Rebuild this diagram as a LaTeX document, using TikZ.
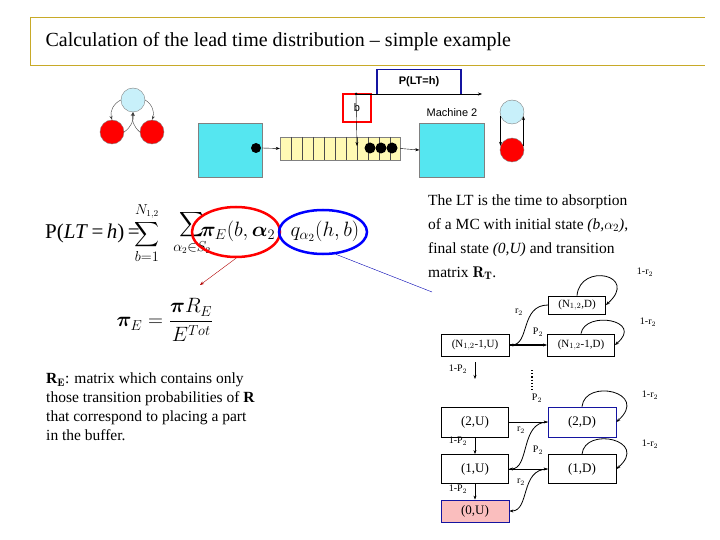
\documentclass[tikz,border=0pt]{standalone}
\usepackage{fontspec}
\usepackage{amsmath,bm}
\newfontfamily\arialf{Liberation Sans}
\newfontfamily\timesf{Liberation Serif}
\usetikzlibrary{arrows.meta,shapes.geometric}
\definecolor{gold}{RGB}{200,170,40}
\definecolor{mcyan}{RGB}{85,230,240}
\definecolor{lblue}{RGB}{200,240,250}
\definecolor{byel}{RGB}{255,250,180}
\definecolor{dblue}{RGB}{20,20,160}
\definecolor{pinkf}{RGB}{250,190,190}
\begin{document}
\begin{tikzpicture}[x=1pt,y=-1pt,
  st/.style={draw,thick,fill=white,font=\timesf\fontsize{13}{15}\selectfont,inner sep=0pt},
  lbl/.style={font=\timesf\fontsize{10}{12}\selectfont,inner sep=1pt},
  arr/.style={-{Stealth[length=4pt]},thin},
  fm/.style={inner sep=0pt,font=\fontsize{21}{24}\selectfont},
  tx/.style={font=\timesf\fontsize{15.5}{19}\selectfont,anchor=west,inner sep=0pt}]
\useasboundingbox (0,0) rectangle (720,540);
\draw[gold,thick] (30,17) -- (705,17) (30,17) -- (30,65) -- (705,65);
\node[anchor=west,font=\timesf\fontsize{20}{24}\selectfont] (title) at (42,42) {Calculation of the lead time distribution – simple example};
% left small chain
\node[circle,draw=gray,fill=lblue,minimum size=24pt,inner sep=0] (ca) at (133,100) {};
\node[circle,draw=gray,fill=red,minimum size=24pt,inner sep=0] (cb) at (112,132) {};
\node[circle,draw=gray,fill=red,minimum size=24pt,inner sep=0] (cc) at (152,132) {};
\draw[arr,gray!50!black] (ca.west) to[bend right=40] (cb.north);
\draw[arr,gray!50!black] (ca.east) to[bend left=40] (cc.north);
\draw[arr,gray!50!black] (cb.east) to[bend right=30] (ca.south);
\draw[arr,gray!50!black] (cc.west) to[bend left=30] (ca.south);
% machines
\node[draw=gray,fill=mcyan,minimum width=64pt,minimum height=54pt,inner sep=0] (m1) at (230,150) {};
\node[draw=gray,fill=mcyan,minimum width=65pt,minimum height=54pt,inner sep=0] (m2) at (452,150) {};
\node[font=\arialf\fontsize{11}{13}\selectfont] (m2l) at (452,113) {Machine 2};
\node[draw=gray,fill=byel,minimum width=120pt,minimum height=23pt,inner sep=0] (buf) at (340,148.5) {};
\foreach \i in {1,...,10} \draw[black!70] (280+\i*11,137) -- (280+\i*11,160);
\fill (256,148) circle (5pt);
\foreach \x in {370,381,392} \fill (\x,148) circle (5.5pt);
\coordinate (d1) at (262,148);
\draw[arr] (d1) -- (buf.west);
\draw[arr] (buf.east) -- (m2.west);
\node[draw=red,very thick,minimum width=28pt,minimum height=28pt,font=\arialf\fontsize{11}{13}\selectfont] (bb) at (357,108) {b};
\node[draw=dblue,very thick,minimum width=84pt,minimum height=25pt,font=\arialf\bfseries\fontsize{11}{13}\selectfont] (plt) at (419,82) {P(LT=h)};
\coordinate (bs) at (356,94);
\coordinate (be) at (482,94);
\coordinate (bd) at (357,146);
\fill (bs) circle (1.5pt);
\draw[arr] (bs) -- (be);
\draw[arr] (bs) -- (bd);
% right small chain
\node[circle,draw=gray,fill=lblue,minimum size=24pt,inner sep=0] (ra) at (512,112) {};
\node[circle,draw=gray,fill=red,minimum size=24pt,inner sep=0] (rb) at (512,150) {};
\draw[arr,thick] (ra.200) -- (rb.160);
\draw[arr,thick] (rb.20) -- (ra.-20);
% formula
\node[fm,anchor=west] (fa) at (45,233) {\timesf P(\textit{LT}\,=\,\textit{h})\,=};
\node[fm,font=\fontsize{19}{22}\selectfont] (fs1) at (147,233) {$\displaystyle\sum_{b=1}^{N_{1,2}}$};
\node[fm,font=\fontsize{19}{22}\selectfont] (fs2) at (192,233) {$\displaystyle\sum_{\alpha_2\in S_2}$};
\node[fm] (fpi) at (238,231) {$\bm{\pi}_E(b,\bm{\alpha}_2$};
\node[fm] (fq) at (325,231) {$q_{\alpha_2}(h,b)$};
\node[draw=red,line width=2.5pt,ellipse,minimum width=88pt,minimum height=50pt] (ell1) at (236,232) {};
\node[draw=blue,line width=2.5pt,ellipse,minimum width=88pt,minimum height=44pt] (ell2) at (323,232) {};
\coordinate (piE) at (200,285);
\coordinate (txt) at (432,292);
\draw[arr,red!70!black] (ell1.south) -- (piE);
\draw[blue!70!black,thin] (ell2.-60) -- (txt);
\node[inner sep=0] (f2) at (165,320) {\fontsize{21}{24}\selectfont $\bm{\pi}_E=\dfrac{\bm{\pi} R_E}{E^{Tot}}$};
% text right
\node[tx] (t1) at (428,202) {The LT is the time to absorption};
\node[tx] (t2) at (428,226) {of a MC with initial state \textit{(b,$\alpha_2$)},};
\node[tx] (t3) at (428,250) {final state \textit{(0,U)} and transition};
\node[tx] (t4) at (428,273) {matrix $\mathbf{R_T}$.};
% text left
\node[tx,align=left,anchor=north west] (t5) at (46,373) {\textbf{R$_\mathbf{E}$}: matrix which contains only\\those transition probabilities of \textbf{R}\\that correspond to placing a part\\in the buffer.};
% state diagram
\node[st,draw,minimum width=57pt,minimum height=18pt,font=\timesf\fontsize{11}{13}\selectfont] (nd) at (577,305) {(N$_{1,2}$,D)};
\node[st,minimum width=68pt,minimum height=22pt,font=\timesf\fontsize{11}{13}\selectfont] (n1u) at (475,345) {(N$_{1,2}$-1,U)};
\node[st,minimum width=67pt,minimum height=22pt,font=\timesf\fontsize{11}{13}\selectfont] (n1d) at (581,345) {(N$_{1,2}$-1,D)};
\node[st,minimum width=67pt,minimum height=30pt] (u2) at (475,422) {(2,U)};
\node[st,draw=dblue,minimum width=68pt,minimum height=30pt] (d2) at (582,422) {(2,D)};
\node[st,minimum width=67pt,minimum height=29pt] (u1) at (475,469) {(1,U)};
\node[st,minimum width=68pt,minimum height=29pt] (d1b) at (582,469) {(1,D)};
\node[st,draw=dblue,fill=pinkf,minimum width=68pt,minimum height=22pt] (u0) at (475,511) {(0,U)};
% loops
\draw[arr,thick] (nd.north) .. controls (580,262) and (640,275) .. (nd.east);
\draw[arr,thick] (n1d.north) .. controls (585,310) and (645,320) .. (n1d.east);
\draw[arr,thick] (d2.north) .. controls (585,378) and (650,392) .. (d2.east);
\draw[arr,thick] (d1b.north) .. controls (585,426) and (650,440) .. (d1b.east);
\draw[arr,thick] (nd.west) .. controls (520,305) and (530,345) .. (n1u.east);
\draw[arr,thick] (d2.west) .. controls (520,422) and (530,469) .. (u1.east);
\draw[arr,thick] (d1b.west) .. controls (520,469) and (530,511) .. (u0.east);
\draw[arr,very thick] (n1u.east) -- (n1d.west);
\draw[arr] (u2.east) -- (d2.west);
\draw[arr] (u1.east) -- (d1b.west);
\draw[arr,thick] (u2.south) -- (u1.north);
\draw[arr,thick] (u1.south) -- (u0.north);
\coordinate (cs) at (475,362);
\coordinate (cd) at (475,379);
\draw[arr,thick] (cs) -- (cd);
\draw[very thick,dotted] (532,370) -- (532,390);
\node[lbl] (l1) at (645,272) {1-r$_2$};
\node[lbl] (l2) at (648,322) {1-r$_2$};
\node[lbl] (l3) at (650,395) {1-r$_2$};
\node[lbl] (l4) at (650,444) {1-r$_2$};
\node[lbl] (r1) at (519,312) {r$_2$};
\node[lbl] (r2) at (521,430) {r$_2$};
\node[lbl] (r3) at (521,482) {r$_2$};
\node[lbl] (p1) at (538,332) {P$_2$};
\node[lbl] (p2) at (537,398) {P$_2$};
\node[lbl] (p3) at (538,450) {P$_2$};
\node[lbl] (q1) at (458,369) {1-P$_2$};
\node[lbl] (q2) at (458,441) {1-P$_2$};
\node[lbl] (q3) at (458,489) {1-P$_2$};
\end{tikzpicture}
\end{document}
